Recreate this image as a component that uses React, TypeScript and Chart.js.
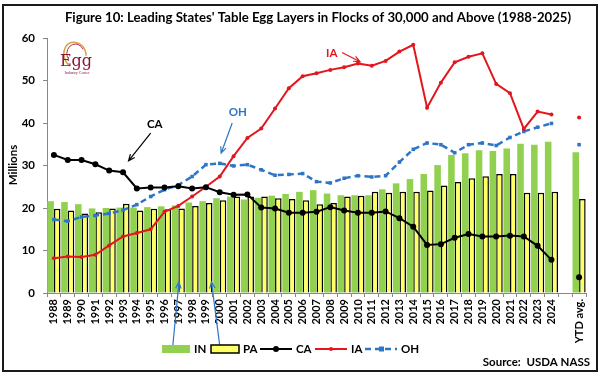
import React, { useEffect, useRef } from 'react';
import { Chart, registerables } from 'chart.js';

Chart.register(...registerables);

// ---------- data ----------
const categories = [
  '1988', '1989', '1990', '1991', '1992', '1993', '1994', '1995', '1996', '1997',
  '1998', '1999', '2000', '2001', '2002', '2003', '2004', '2005', '2006', '2007',
  '2008', '2009', '2010', '2011', '2012', '2013', '2014', '2015', '2016', '2017',
  '2018', '2019', '2020', '2021', '2022', '2023', '2024', '', 'YTD avg.',
];

const inLayers = [
  21.6, 21.4, 20.9, 19.9, 20.0, 20.1, 20.1, 20.2, 20.4, 20.6,
  21.3, 21.6, 22.3, 22.7, 22.0, 22.4, 22.9, 23.3, 23.8, 24.2,
  23.4, 23.0, 23.0, 23.0, 24.4, 25.8, 26.8, 28.0, 30.1, 32.5,
  32.9, 33.6, 33.4, 34.0, 35.1, 34.9, 35.6, null, 33.1,
];

const paLayers = [
  19.8, 19.4, 18.7, 19.0, 19.9, 21.0, 19.4, 19.8, 19.7, 19.9,
  20.5, 21.2, 21.8, 22.7, 22.7, 22.7, 22.3, 22.1, 21.8, 20.9,
  21.2, 22.7, 22.9, 23.8, 23.6, 23.8, 23.8, 24.1, 25.3, 26.1,
  27.0, 27.5, 28.0, 28.0, 23.6, 23.6, 23.8, null, 22.1,
];

const caLayers = [
  32.5, 31.3, 31.3, 30.3, 28.8, 28.4, 24.6, 24.8, 24.8, 25.1,
  24.6, 24.9, 23.7, 23.1, 23.2, 20.1, 19.9, 18.9, 18.9, 19.1,
  20.2, 19.4, 18.9, 18.9, 19.2, 17.6, 15.6, 11.3, 11.5, 13.0,
  13.9, 13.3, 13.3, 13.5, 13.3, 11.1, 7.8, null, 3.7,
];

const iaLayers = [
  8.2, 8.6, 8.5, 9.0, 11.2, 13.3, 14.1, 15.0, 19.1, 20.5,
  22.7, 25.0, 27.4, 32.2, 36.5, 38.7, 43.4, 48.2, 51.0, 51.7,
  52.5, 53.1, 54.0, 53.5, 54.6, 56.8, 58.4, 43.6, 49.5, 54.3,
  55.6, 56.4, 49.2, 47.0, 38.6, 42.7, 42.0, null, 41.3,
];

const ohLayers = [
  17.3, 16.9, 17.9, 18.2, 18.7, 19.5, 20.8, 22.7, 24.3, 25.4,
  27.4, 30.2, 30.5, 29.9, 30.2, 29.0, 27.7, 27.9, 28.1, 26.2,
  25.9, 27.0, 27.6, 27.3, 27.6, 30.8, 33.8, 35.3, 34.9, 33.0,
  34.9, 35.3, 34.7, 36.6, 38.0, 39.0, 39.9, null, 34.9,
];

const yMin = 0;
const yMax = 60;
const yStep = 10;

const titleText = "Figure 10: Leading States' Table Egg Layers in Flocks of 30,000 and Above (1988-2025)";
const sourceText = 'Source:  USDA NASS';
const yTitle = 'Millions';

// ---------- styles ----------
const GREEN = '#92D050';
const YELLOW = '#FFFF66';
const RED = '#E3161E';
const BLUE = '#2E75C6';
const FONT = 'Lato, "Open Sans", sans-serif';

// annotation anchors (category index, value)
const callouts = [
  { text: 'CA', color: '#000', label: [7.3, 39.8], from: [7.0, 37.6], to: [5.4, 31.1] },
  { text: 'OH', color: BLUE, label: [13.3, 42.6], from: [12.9, 40.0], to: [12.1, 32.9] },
  { text: 'IA', color: RED, label: [20.1, 56.3], from: [20.85, 56.6], to: [22.15, 54.4] },
  { text: '', color: BLUE, label: [0, 0], from: [8.6, -12.4], to: [9.05, 2.6] },
  { text: '', color: BLUE, label: [0, 0], from: [12.0, -12.4], to: [11.4, 2.6] },
];

function arrow(ctx: CanvasRenderingContext2D, x1: number, y1: number, x2: number, y2: number, color: string) {
  ctx.save();
  ctx.strokeStyle = color;
  ctx.lineWidth = 1.2;
  ctx.beginPath();
  ctx.moveTo(x1, y1);
  ctx.lineTo(x2, y2);
  const a = Math.atan2(y2 - y1, x2 - x1);
  const h = 7;
  ctx.moveTo(x2 - h * Math.cos(a - 0.4), y2 - h * Math.sin(a - 0.4));
  ctx.lineTo(x2, y2);
  ctx.lineTo(x2 - h * Math.cos(a + 0.4), y2 - h * Math.sin(a + 0.4));
  ctx.stroke();
  ctx.restore();
}

const decorPlugin = {
  id: 'decor',
  afterDraw(chart: any) {
    const ctx: CanvasRenderingContext2D = chart.ctx;
    const xs = chart.scales.x;
    const ys = chart.scales.y;
    ctx.save();

    // frame
    ctx.strokeStyle = '#1a1a1a';
    ctx.lineWidth = 2;
    ctx.strokeRect(3, 5, 594, 366);

    // title
    ctx.fillStyle = '#000';
    ctx.font = `bold 13.2px ${FONT}`;
    ctx.textAlign = 'center';
    ctx.textBaseline = 'middle';
    ctx.fillText(titleText, 318, 18);

    // y title
    ctx.save();
    ctx.translate(13, 165);
    ctx.rotate(-Math.PI / 2);
    ctx.font = `bold 11.5px ${FONT}`;
    ctx.fillText(yTitle, 0, 0);
    ctx.restore();

    // logo
    ctx.save();
    ctx.strokeStyle = '#D9A24A';
    ctx.lineWidth = 1.5;
    ctx.beginPath();
    ctx.ellipse(75, 55, 11, 13, -0.3, Math.PI * 0.75, Math.PI * 2.1);
    ctx.stroke();
    ctx.strokeStyle = '#B03050';
    ctx.lineWidth = 1;
    ctx.beginPath();
    ctx.ellipse(76, 55, 9, 11, -0.3, Math.PI * 1.0, Math.PI * 1.9);
    ctx.stroke();
    ctx.fillStyle = '#8B1538';
    ctx.font = '16px "DejaVu Serif", "Liberation Serif", serif';
    ctx.textAlign = 'center';
    ctx.fillText('Egg', 76, 62);
    ctx.font = '4px "Liberation Serif", serif';
    ctx.fillText('Industry Center', 77, 73);
    ctx.restore();

    // callouts
    const px = (v: number) => xs.getPixelForValue(v);
    const py = (v: number) => ys.getPixelForValue(v);
    for (const c of callouts) {
      if (c.text) {
        ctx.fillStyle = c.color;
        ctx.font = `bold 11.5px ${FONT}`;
        ctx.textAlign = 'center';
        ctx.textBaseline = 'middle';
        ctx.fillText(c.text, px(c.label[0]), py(c.label[1]));
      }
      arrow(ctx, px(c.from[0]), py(c.from[1]), px(c.to[0]), py(c.to[1]), c.color);
    }

    // legend
    const ly = 349;
    ctx.font = `bold 11.5px ${FONT}`;
    ctx.textAlign = 'left';
    ctx.textBaseline = 'middle';
    ctx.fillStyle = GREEN;
    ctx.fillRect(162, ly - 4, 28, 8);
    ctx.fillStyle = '#000';
    ctx.fillText('IN', 194, ly);
    ctx.fillStyle = YELLOW;
    ctx.fillRect(211, ly - 4, 28, 8);
    ctx.strokeStyle = '#000';
    ctx.lineWidth = 1.5;
    ctx.strokeRect(211, ly - 4, 28, 8);
    ctx.fillStyle = '#000';
    ctx.fillText('PA', 243, ly);
    // CA
    ctx.strokeStyle = '#000';
    ctx.lineWidth = 2;
    ctx.beginPath(); ctx.moveTo(260, ly); ctx.lineTo(292, ly); ctx.stroke();
    ctx.beginPath(); ctx.arc(276, ly, 3, 0, Math.PI * 2); ctx.fill();
    ctx.fillText('CA', 296, ly);
    // IA
    ctx.strokeStyle = RED;
    ctx.fillStyle = RED;
    ctx.beginPath(); ctx.moveTo(315, ly); ctx.lineTo(347, ly); ctx.stroke();
    ctx.beginPath(); ctx.arc(331, ly, 2, 0, Math.PI * 2); ctx.fill();
    ctx.fillStyle = '#000';
    ctx.fillText('IA', 351, ly);
    // OH
    ctx.strokeStyle = BLUE;
    ctx.lineWidth = 2.5;
    ctx.setLineDash([6, 4]);
    ctx.beginPath(); ctx.moveTo(365, ly); ctx.lineTo(397, ly); ctx.stroke();
    ctx.setLineDash([]);
    ctx.fillStyle = BLUE;
    ctx.fillRect(379, ly - 2.5, 5, 5);
    ctx.fillStyle = '#000';
    ctx.fillText('OH', 401, ly);

    // source
    ctx.textAlign = 'right';
    ctx.font = `bold 11.5px ${FONT}`;
    ctx.fillText(sourceText, 590, 362);

    ctx.restore();
  },
};

export default function App() {
  const canvasRef = useRef<HTMLCanvasElement | null>(null);

  useEffect(() => {
    document.body.style.margin = '0';
    const canvas = canvasRef.current;
    if (!canvas) return;
    const chart = new Chart(canvas, {
      type: 'bar',
      data: {
        labels: categories,
        datasets: [
          {
            type: 'line', label: 'CA', data: caLayers, borderColor: '#000', backgroundColor: '#000',
            borderWidth: 2, pointRadius: 3, pointBackgroundColor: '#000', pointBorderWidth: 0,
            tension: 0, spanGaps: false, order: 1,
          },
          {
            type: 'line', label: 'IA', data: iaLayers, borderColor: RED, backgroundColor: RED,
            borderWidth: 2, pointRadius: 2, pointBackgroundColor: RED, pointBorderWidth: 0,
            tension: 0, spanGaps: false, order: 2,
          },
          {
            type: 'line', label: 'OH', data: ohLayers, borderColor: BLUE, backgroundColor: BLUE,
            borderWidth: 2.5, borderDash: [6, 4], pointRadius: 2.5, pointStyle: 'rect',
            pointBackgroundColor: BLUE, pointBorderWidth: 0, tension: 0, spanGaps: false, order: 3,
          },
          {
            type: 'bar', label: 'IN', data: inLayers, backgroundColor: GREEN, borderWidth: 0,
            barPercentage: 1.0, categoryPercentage: 0.95, order: 10,
          },
          {
            type: 'bar', label: 'PA', data: paLayers, backgroundColor: YELLOW, borderColor: '#000',
            borderWidth: 1.5, barPercentage: 1.0, categoryPercentage: 0.95, order: 10,
          },
        ],
      },
      options: {
        responsive: false,
        animation: false,
        layout: { padding: { top: 38, left: 0, right: 14, bottom: 29 } },
        plugins: { legend: { display: false }, tooltip: { enabled: false }, title: { display: false } },
        scales: {
          x: {
            grid: { display: true, drawOnChartArea: false, offset: true, tickLength: 4, color: '#888' },
            border: { display: true, color: '#888', width: 1 },
            ticks: {
              autoSkip: false, minRotation: 90, maxRotation: 90, color: '#000', padding: 2,
              font: { family: FONT, size: 11, weight: 'bold' },
            },
            afterFit(scale: any) { scale.height = 55; },
          },
          y: {
            min: yMin, max: yMax,
            grid: { display: true, drawOnChartArea: false, tickLength: 4, color: '#888' },
            border: { display: true, color: '#888', width: 1 },
            ticks: { stepSize: yStep, color: '#000', padding: 8, font: { family: FONT, size: 11.5, weight: 'bold' } },
            afterFit(scale: any) { scale.width = 47; },
          },
        },
      },
      plugins: [decorPlugin],
    });
    return () => chart.destroy();
  }, []);

  return (
    <div style={{ width: 600, height: 377, background: '#fff' }}>
      <canvas ref={canvasRef} width={600} height={377} style={{ display: 'block' }} />
    </div>
  );
}
